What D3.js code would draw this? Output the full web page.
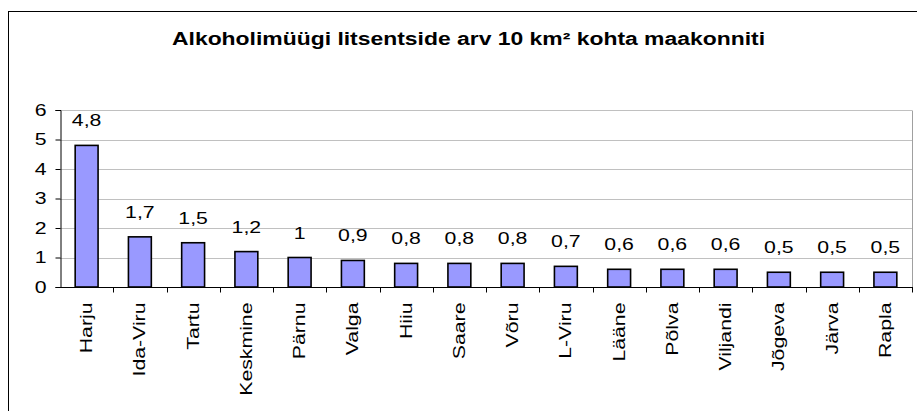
<!DOCTYPE html>
<html>
<head>
<meta charset="utf-8">
<script src="https://cdn.jsdelivr.net/npm/d3@7"></script>
<style>
  body { margin: 0; background: #fff; }
  text { font-family: "Liberation Sans", Arial, sans-serif; }
</style>
</head>
<body>
<div id="chart-area"></div>
<script>
// data
const counties = ["Harju", "Ida-Viru", "Tartu", "Keskmine", "Pärnu", "Valga", "Hiiu", "Saare",
    "Võru", "L-Viru", "Lääne", "Põlva", "Viljandi", "Jõgeva", "Järva", "Rapla"]
const licences = [4.8, 1.7, 1.5, 1.2, 1, 0.9, 0.8, 0.8, 0.8, 0.7, 0.6, 0.6, 0.6, 0.5, 0.5, 0.5]
const yTicks = [0, 1, 2, 3, 4, 5, 6]
const title = "Alkoholimüügi litsentside arv 10 km² kohta maakonniti"

function drawChart() {
    const svgWidth = 917
    const svgHeight = 411
    const margin = { left: 60, right: 5, top: 110, bottom: 124 }
    const stretch = 1.25 // the original text is drawn wider than normal Arial

    const dataset = counties.map((c, i) => ({ county: c, value: licences[i] }))

    const svg = d3.select("#chart-area")
        .append("svg")
        .attr("width", svgWidth)
        .attr("height", svgHeight)

    // outer chart frame
    svg.append("rect")
        .attr("x", 8.5)
        .attr("y", 11.5)
        .attr("width", 930)
        .attr("height", 420)
        .attr("fill", "none")
        .attr("stroke", "#000")
        .attr("stroke-width", 1)

    svg.append("text")
        .attr("x", 468.5)
        .attr("y", 45)
        .attr("text-anchor", "middle")
        .style("font-size", "18px")
        .style("font-weight", "bold")
        .attr("textLength", 593)
        .attr("lengthAdjust", "spacingAndGlyphs")
        .text(title)

    const xScale = d3.scaleBand()
        .domain(counties)
        .range([margin.left, svgWidth - margin.right])
        .paddingInner(0.57)
        .paddingOuter(0.285)

    const yScale = d3.scaleLinear()
        .domain([0, 6])
        .range([svgHeight - margin.bottom, margin.top])

    // gridlines
    svg.append("g")
        .selectAll("line")
        .data(yTicks.filter(d => d > 0))
        .join("line")
        .attr("x1", margin.left)
        .attr("x2", svgWidth - margin.right)
        .attr("y1", d => Math.round(yScale(d)) + 0.5)
        .attr("y2", d => Math.round(yScale(d)) + 0.5)
        .attr("stroke", "#c0c0c0")

    // plot area border (right)
    svg.append("line")
        .attr("x1", svgWidth - margin.right + 0.5)
        .attr("x2", svgWidth - margin.right + 0.5)
        .attr("y1", Math.round(yScale(6)) + 0.5)
        .attr("y2", Math.round(yScale(0)) + 0.5)
        .attr("stroke", "#a0a0a0")

    svg.append("g")
        .selectAll("rect")
        .data(dataset)
        .join("rect")
        .attr("x", d => xScale(d.county))
        .attr("y", d => yScale(d.value))
        .attr("width", xScale.bandwidth())
        .attr("height", d => yScale(0) - yScale(d.value))
        .attr("fill", "#9999ff")
        .attr("stroke", "#000")
        .attr("stroke-width", 1.6)

    svg.append("g")
        .selectAll("text")
        .data(dataset)
        .join("text")
        .attr("transform", d => `translate(${xScale(d.county) + xScale.bandwidth() / 2},${yScale(d.value) - 19}) scale(${stretch},1)`)
        .attr("text-anchor", "middle")
        .style("font-size", "17px")
        .text(d => String(d.value).replace(".", ","))

    const yAxis = svg.append("g")
        .attr("transform", `translate(${margin.left + 0.5},0)`)
        .call(d3.axisLeft(yScale).tickValues(yTicks).tickFormat(d3.format("d")).tickSize(5).tickPadding(0))
    yAxis.selectAll("text")
        .attr("x", null)
        .attr("transform", `translate(-14,0) scale(${stretch},1)`)
        .style("font-size", "17px")
        .attr("fill", "#000")
        .attr("font-family", null)
    yAxis.selectAll("line").attr("stroke", "#000")
    yAxis.select(".domain").attr("stroke", "#000")

    // x axis: ticks sit between categories
    const xAxis = svg.append("g")
        .attr("transform", `translate(0,${Math.round(yScale(0)) + 0.5})`)
    xAxis.append("line")
        .attr("x1", margin.left)
        .attr("x2", svgWidth - margin.right + 1)
        .attr("stroke", "#000")
    xAxis.selectAll(".tick")
        .data(counties)
        .join("line")
        .attr("class", "tick")
        .attr("x1", (d, i) => Math.round(margin.left + xScale.step() * (i + 1)) + 0.5)
        .attr("x2", (d, i) => Math.round(margin.left + xScale.step() * (i + 1)) + 0.5)
        .attr("y1", 0)
        .attr("y2", 5)
        .attr("stroke", "#000")
    xAxis.selectAll(".label")
        .data(counties)
        .join("text")
        .attr("class", "label")
        .attr("transform", d => `translate(${xScale(d) + xScale.bandwidth() / 2},15) rotate(-90) scale(${stretch},1)`)
        .attr("text-anchor", "end")
        .attr("dy", "0.33em")
        .style("font-size", "17px")
        .text(d => d)
}

drawChart()
</script>
</body>
</html>
